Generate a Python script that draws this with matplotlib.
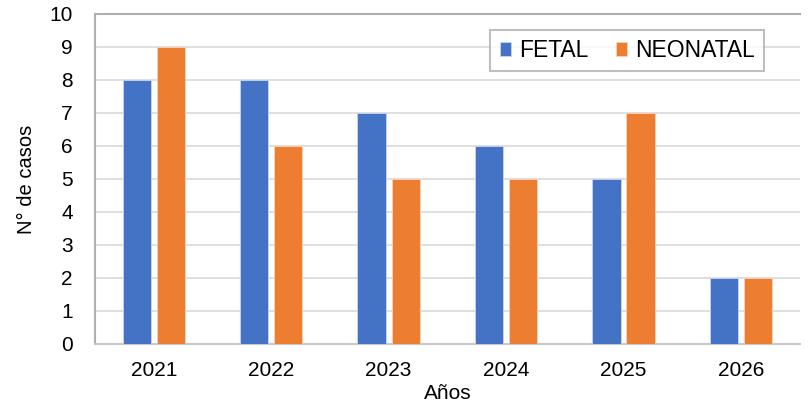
import numpy as np
import matplotlib.pyplot as plt

plt.rcParams['font.family'] = ['Liberation Sans', 'DejaVu Sans']

years = ["2021", "2022", "2023", "2024", "2025", "2026"]
fetal = [8, 8, 7, 6, 5, 2]
neonatal = [9, 6, 5, 5, 7, 2]

fig = plt.figure(figsize=(8.08, 4.07), dpi=100)
ax = fig.add_axes([0.1176, 0.155, 0.872, 0.811])

x = np.arange(len(years))
w = 0.24
ax.bar(x - 0.145, fetal, w, color="#4472C4", label="FETAL", zorder=3,
       edgecolor="#c9d6ee", linewidth=0.6)
ax.bar(x + 0.145, neonatal, w, color="#ED7D31", label="NEONATAL", zorder=3,
       edgecolor="#f8d3bb", linewidth=0.6)

ax.set_xlim(-0.5, len(years) - 0.5)
ax.set_ylim(0, 10)
ax.set_yticks(range(0, 11))
ax.set_xticks(x)
ax.set_xticklabels(years)
ax.tick_params(axis="y", length=0, labelsize=15, pad=16)
ax.tick_params(axis="x", length=0, labelsize=15, pad=12)
ax.yaxis.grid(True, color="#d9d9d9", linewidth=1.2, zorder=0)

ax.spines["right"].set_visible(False)
ax.spines["top"].set_color("#b0b0b0")
ax.spines["top"].set_linewidth(1.5)
ax.spines["left"].set_color("#b0b0b0")
ax.spines["left"].set_linewidth(1.5)
ax.spines["bottom"].set_color("#c8c8c8")
ax.spines["bottom"].set_linewidth(1.5)

ax.set_xlabel("Años", fontsize=15, labelpad=3)
ax.set_ylabel("N° de casos", fontsize=14.5, labelpad=10)

leg = ax.legend(loc="upper right", bbox_to_anchor=(0.950, 0.952), ncol=2,
                fontsize=16.5, frameon=True, fancybox=False, handlelength=0.5,
                handleheight=0.55, columnspacing=1.2, handletextpad=0.35,
                borderpad=0.4, borderaxespad=0)
leg.get_frame().set_edgecolor("#b0b0b0")
leg.get_frame().set_linewidth(1.5)

fig.savefig("out.png", dpi=100)
